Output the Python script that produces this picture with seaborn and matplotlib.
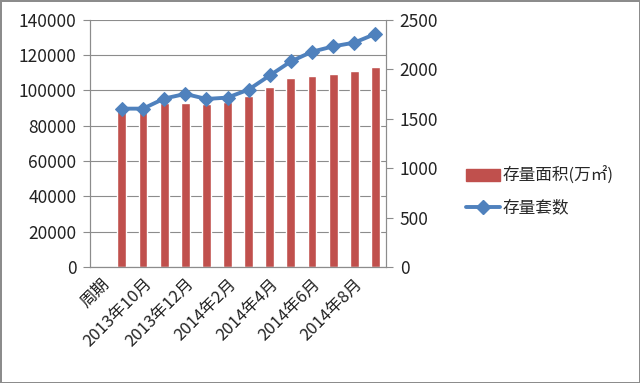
import pandas as pd
import seaborn as sns
import matplotlib.pyplot as plt
import numpy as np
from matplotlib.lines import Line2D
from matplotlib.patches import Patch

# Data
periods = ["周期", "2013年9月", "2013年10月", "2013年11月", "2013年12月",
           "2014年1月", "2014年2月", "2014年3月", "2014年4月", "2014年5月",
           "2014年6月", "2014年7月", "2014年8月", "2014年9月"]
area = [np.nan, 89200, 89500, 93000, 93000, 92400, 93300, 96800,
        101700, 106800, 108300, 109300, 110800, 113300]
units = [np.nan, 1602, 1602, 1704, 1751, 1700, 1714, 1795,
         1938, 2080, 2178, 2232, 2270, 2358]

bar_color = "#C0504D"
line_color = "#4F81BD"

sns.set_style("white")
plt.rcParams['font.family'] = ['Noto Sans CJK SC', 'DejaVu Sans']

df = pd.DataFrame({"period": periods, "area": area, "units": units,
                   "pos": np.arange(len(periods))})

fig = plt.figure(figsize=(6.4, 3.83), dpi=100, edgecolor="#8c8c8c", linewidth=2)
ax = fig.add_axes([0.141, 0.303, 0.462, 0.645])

sns.barplot(data=df, x="period", y="area", color=bar_color, width=0.42,
            saturation=1, ax=ax)
ax.set_ylim(0, 140000)
ax.set_yticks(np.arange(0, 140001, 20000))
ax.yaxis.grid(True, color="#8c8c8c", linewidth=0.8)
ax.set_axisbelow(True)
ax.set_xlim(-0.5, len(periods) - 0.5)
ax.set_xlabel("")
ax.set_ylabel("")

ax2 = ax.twinx()
sns.lineplot(data=df, x="pos", y="units", color=line_color, marker="D",
             markersize=7, markeredgecolor=line_color, linewidth=2.8, ax=ax2)
ax2.set_ylim(0, 2500)
ax2.set_yticks(np.arange(0, 2501, 500))
ax2.set_ylabel("")
ax2.set_xlim(-0.5, len(periods) - 0.5)

# x ticks: labels every other category, tick marks between categories
ax.set_xticks(np.arange(len(periods)))
ax.set_xticklabels([p if i % 2 == 0 else "" for i, p in enumerate(periods)],
                   rotation=45, ha="right", rotation_mode="anchor", fontsize=12)
ax.tick_params(axis="x", which="major", length=0, pad=6)
ax.set_xticks(np.arange(len(periods) + 1) - 0.5, minor=True)
ax.tick_params(axis="x", which="minor", length=5, color="#8c8c8c", width=0.8)
ax.tick_params(axis="y", length=5, color="#8c8c8c", width=0.8, labelsize=12.5,
               left=True, pad=5)
ax2.tick_params(axis="y", length=5, color="#8c8c8c", width=0.8, labelsize=12.5,
                right=True, pad=5)

for a in (ax, ax2):
    a.spines["top"].set_visible(False)
    for side in ("left", "right", "bottom"):
        a.spines[side].set_color("#8c8c8c")
        a.spines[side].set_linewidth(0.8)
for lab in ax.get_yticklabels() + ax2.get_yticklabels() + ax.get_xticklabels():
    lab.set_color("#222222")

handles = [Patch(color=bar_color),
           Line2D([], [], color=line_color, marker="D", markersize=7, linewidth=2.8)]
fig.legend(handles, ["存量面积(万㎡)", "存量套数"], loc="center left",
           bbox_to_anchor=(0.705, 0.5), frameon=False, fontsize=12,
           handlelength=2.0, handletextpad=0.2, labelspacing=0.9)

fig.savefig("out.png", dpi=100)
